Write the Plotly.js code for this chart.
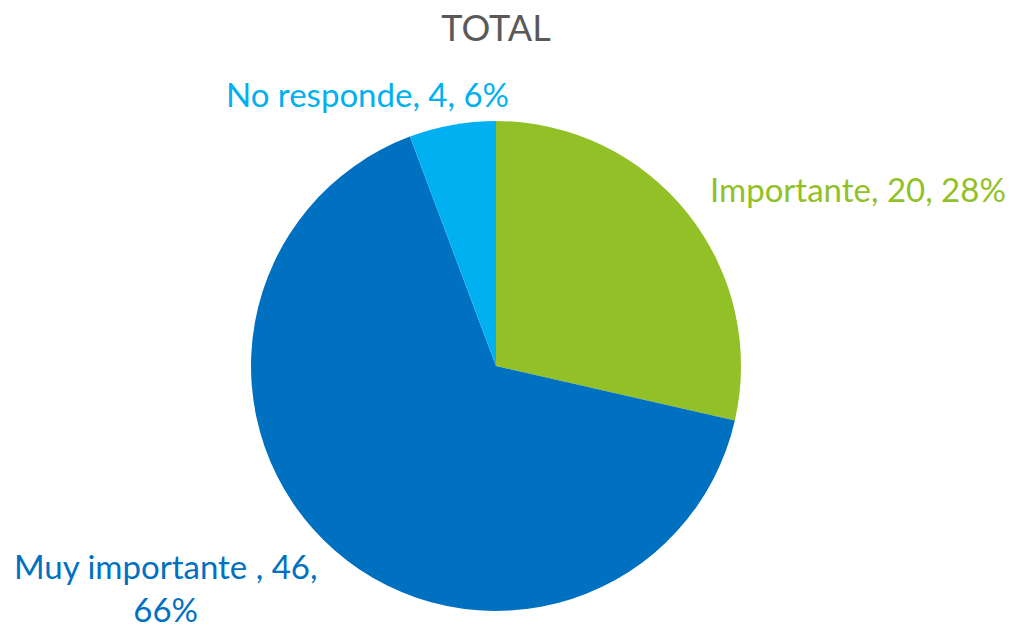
<!DOCTYPE html>
<html>
<head>
<meta charset="utf-8">
<script src="https://cdn.plot.ly/plotly-3.0.1.min.js"></script>
<style>html,body{margin:0;padding:0;background:#fff;}#chart{width:1011px;height:631px;}</style>
</head>
<body>
<div id="chart"></div>
<script>
const categories = ["Importante", "Muy importante ", "No responde"];
const values = [20, 46, 4];
const percentLabels = ["28%", "66%", "6%"];
const colors = ["#92C027", "#0070C0", "#00B0F0"];

const fontFam = "Lato, 'Open Sans', sans-serif";
const fsize = 33;

const ann = (text, x, y, xanchor, yanchor, color) => ({
  xref: "paper", yref: "paper", showarrow: false, text: text,
  x: x / 1011, y: 1 - y / 631, xanchor: xanchor, yanchor: yanchor,
  font: {family: fontFam, size: fsize, color: color}
});

const annotations = [
  ann(categories[0] + ", " + values[0] + ", " + percentLabels[0], 708, 189, "left", "middle", colors[0]),
  ann(categories[1] + ", " + values[1] + ",<br>" + percentLabels[1], 165, 631, "center", "bottom", colors[1]),
  ann(categories[2] + ", " + values[2] + ", " + percentLabels[2], 367, 94, "center", "middle", colors[2])
];

const data = [{
  type: "pie",
  labels: categories,
  values: values,
  marker: {colors: colors, line: {color: "#ffffff", width: 0}},
  sort: false,
  direction: "clockwise",
  rotation: 0,
  textinfo: "none",
  hoverinfo: "none",
  domain: {x: [251/1011, 741/1011], y: [1 - 611/631, 1 - 121/631]}
}];

const layout = {
  width: 1011, height: 631,
  margin: {l: 0, r: 0, t: 0, b: 0},
  paper_bgcolor: "#ffffff",
  showlegend: false,
  title: {text: "TOTAL", x: 496/1011, xanchor: "center", y: 1 - 28/631, yanchor: "middle",
          font: {family: fontFam, size: 36, color: "#595959"}},
  annotations: annotations
};

Plotly.newPlot("chart", data, layout, {staticPlot: true, displayModeBar: false});
</script>
</body>
</html>
